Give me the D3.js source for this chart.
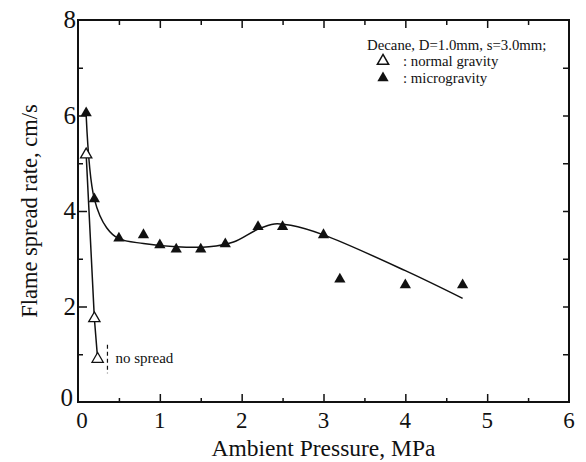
<!DOCTYPE html>
<html>
<head>
<meta charset="utf-8">
<script src="https://cdn.jsdelivr.net/npm/d3@7"></script>
<style>
  body { margin: 0; background: #fff; }
  text { font-family: "Liberation Serif", "DejaVu Serif", serif; fill: #111; }
</style>
</head>
<body>
<svg id="chart" width="586" height="462"></svg>
<script>
// data
var microPressure = [0.1, 0.2, 0.5, 0.8, 1.0, 1.2, 1.5, 1.8, 2.2, 2.5, 3.0, 3.2, 4.0, 4.7];
var microRate     = [6.05, 4.25, 3.43, 3.5, 3.29, 3.2, 3.2, 3.31, 3.67, 3.67, 3.5, 2.57, 2.45, 2.45];

var normalPressure = [0.1, 0.2, 0.24];
var normalRate     = [5.18, 1.75, 0.9];

// hand-drawn fit curve through the microgravity points
var fitPressure = [0.1, 0.2, 0.35, 0.5, 0.8, 1.2, 1.6, 1.9, 2.2, 2.4, 2.6, 3.0, 4.0, 4.7];
var fitRate     = [6.0, 4.25, 3.65, 3.42, 3.32, 3.25, 3.25, 3.35, 3.62, 3.73, 3.7, 3.5, 2.75, 2.17];

var xTicks = [0, 1, 2, 3, 4, 5, 6];
var yTicks = [0, 2, 4, 6, 8];

var svg = d3.select("#chart");
var margin = {left: 78, right: 17, top: 20, bottom: 60};
var W = 586, H = 462;

var x = d3.scaleLinear().domain([0, 6]).range([margin.left, W - margin.right]);
var y = d3.scaleLinear().domain([0, 8]).range([H - margin.bottom, margin.top]);

// frame
svg.append("rect")
    .attr("x", x(0)).attr("y", y(8))
    .attr("width", x(6) - x(0)).attr("height", y(0) - y(8))
    .attr("fill", "none").attr("stroke", "#111").attr("stroke-width", 2);

// bottom axis, ticks inward
var bottomAxis = svg.append("g").attr("transform", "translate(0," + y(0) + ")");
bottomAxis.call(d3.axisBottom(x).tickValues(d3.range(0.5, 6, 1)).tickSize(-4).tickFormat(""));
bottomAxis.append("g").call(d3.axisBottom(x).tickValues(xTicks.slice(1, 6)).tickSize(-8).tickFormat(""));
bottomAxis.selectAll(".domain").remove();
bottomAxis.selectAll("line").attr("stroke", "#111").attr("stroke-width", 1.5);

svg.append("g").selectAll("text")
    .data(xTicks)
    .join("text")
    .attr("x", d => d == 0 ? x(d) + 4 : x(d))
    .attr("y", y(0) + 26)
    .attr("text-anchor", "middle")
    .style("font-size", "23px")
    .text(d => d);

// top axis
var topAxis = svg.append("g").attr("transform", "translate(0," + y(8) + ")");
topAxis.call(d3.axisTop(x).tickValues(d3.range(0.5, 6, 1)).tickSize(-5).tickFormat(""));
topAxis.append("g").call(d3.axisTop(x).tickValues(xTicks.slice(1, 6)).tickSize(-8).tickFormat(""));
topAxis.selectAll(".domain").remove();
topAxis.selectAll("line").attr("stroke", "#111").attr("stroke-width", 1.5);

// left axis
var leftAxis = svg.append("g").attr("transform", "translate(" + x(0) + ",0)");
leftAxis.call(d3.axisLeft(y).tickValues([1, 3, 5, 7]).tickSize(-5).tickFormat(""));
leftAxis.append("g").call(d3.axisLeft(y).tickValues([2, 4, 6]).tickSize(-9).tickFormat(""));
leftAxis.selectAll(".domain").remove();
leftAxis.selectAll("line").attr("stroke", "#111").attr("stroke-width", 1.5);

svg.append("g").selectAll("text")
    .data(yTicks)
    .join("text")
    .attr("x", d => d == 0 ? x(0) - 5 : x(0) - 2)
    .attr("y", d => d == 0 ? y(d) + 4 : y(d) + 8)
    .attr("text-anchor", "end")
    .style("font-size", "25px")
    .text(d => d);

// right axis
var rightAxis = svg.append("g").attr("transform", "translate(" + x(6) + ",0)");
rightAxis.call(d3.axisRight(y).tickValues(d3.range(1, 8)).tickSize(-6).tickFormat(""));
rightAxis.selectAll(".domain").remove();
rightAxis.selectAll("line").attr("stroke", "#111").attr("stroke-width", 1.5);

// axis titles
svg.append("text")
    .attr("x", (x(0) + x(6)) / 2)
    .attr("y", H - 6)
    .attr("text-anchor", "middle")
    .style("font-size", "23.5px")
    .text("Ambient Pressure, MPa");

svg.append("text")
    .attr("transform", "translate(" + 37 + "," + ((y(0) + y(8)) / 2) + ") rotate(-90)")
    .attr("text-anchor", "middle")
    .style("font-size", "22.5px")
    .text("Flame spread rate, cm/s");

// lines
var fitData = fitPressure.map((p, i) => [p, fitRate[i]]);
svg.append("path")
    .datum(fitData)
    .attr("d", d3.line().x(d => x(d[0])).y(d => y(d[1])).curve(d3.curveCatmullRom.alpha(0.5)))
    .attr("fill", "none").attr("stroke", "#111").attr("stroke-width", 1.5);

var normalData = normalPressure.map((p, i) => [p, normalRate[i]]);
svg.append("path")
    .datum(normalData)
    .attr("d", d3.line().x(d => x(d[0])).y(d => y(d[1])))
    .attr("fill", "none").attr("stroke", "#111").attr("stroke-width", 1.5);

// "no spread" marker
svg.append("line")
    .attr("x1", x(0.36)).attr("x2", x(0.36))
    .attr("y1", y(1.2)).attr("y2", y(0.6))
    .attr("stroke", "#111").attr("stroke-width", 1.2)
    .attr("stroke-dasharray", "4,3");
svg.append("text")
    .attr("x", x(0.36) + 8)
    .attr("y", y(0.9) + 4)
    .style("font-size", "15px")
    .text("no spread");

// markers
var tri = d3.symbol().type(d3.symbolTriangle).size(55);
svg.append("g").selectAll("path")
    .data(microPressure.map((p, i) => [p, microRate[i]]))
    .join("path")
    .attr("transform", d => "translate(" + x(d[0]) + "," + y(d[1]) + ")")
    .attr("d", tri)
    .attr("fill", "#111");

svg.append("g").selectAll("path")
    .data(normalData)
    .join("path")
    .attr("transform", d => "translate(" + x(d[0]) + "," + y(d[1]) + ")")
    .attr("d", tri)
    .attr("fill", "#fff").attr("stroke", "#111").attr("stroke-width", 1.3);

// legend
var lg = svg.append("g");
lg.append("text").attr("x", 367).attr("y", 50).style("font-size", "14.8px")
    .text("Decane, D=1.0mm, s=3.0mm;");
lg.append("path").attr("transform", "translate(383,61)").attr("d", tri)
    .attr("fill", "#fff").attr("stroke", "#111").attr("stroke-width", 1.5);
lg.append("text").attr("x", 403).attr("y", 66).style("font-size", "14.8px")
    .text(": normal gravity");
lg.append("path").attr("transform", "translate(383,78)").attr("d", tri)
    .attr("fill", "#111");
lg.append("text").attr("x", 403).attr("y", 83).style("font-size", "14.8px")
    .text(": microgravity");
</script>
</body>
</html>
